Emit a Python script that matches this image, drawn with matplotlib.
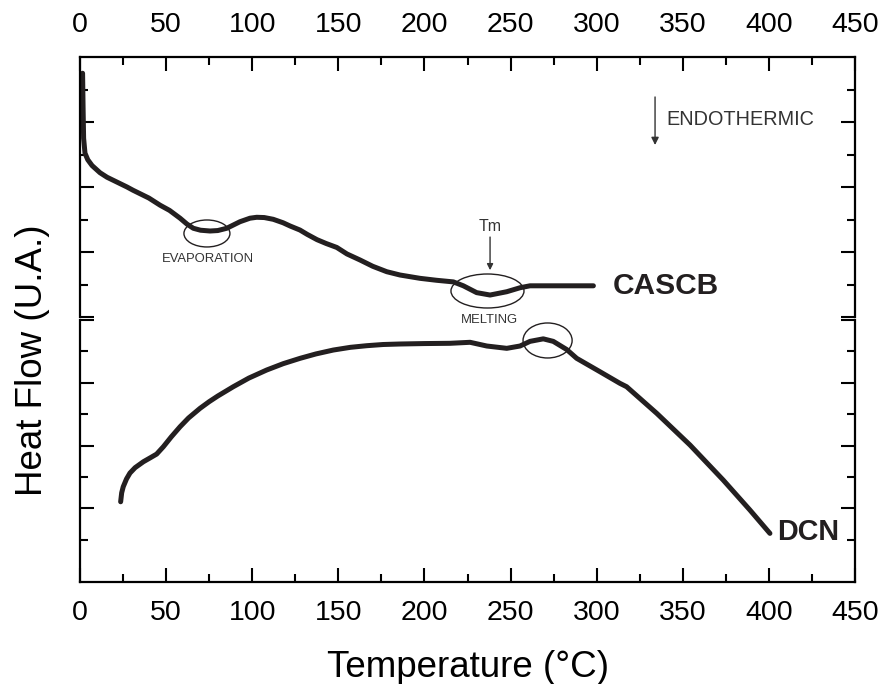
import matplotlib
matplotlib.use("Agg")
import matplotlib.pyplot as plt
from matplotlib.patches import Ellipse
from matplotlib.ticker import FixedLocator

plt.rcParams['font.family'] = ['Liberation Sans', 'DejaVu Sans']

# ---- data ----
cascb_x = [1.5, 1.8, 2.1, 2.9, 4.5, 7.0, 11.6, 15.7, 27.3, 30.8, 40, 46.5, 52, 58.1, 62.1,
           65.8, 70, 75.5, 80, 85.2, 92.9, 98.7, 102.6, 107, 112.2, 117.9, 122, 127.7, 132,
           137.6, 143, 149.1, 155, 162.6, 170, 178.1, 185.8, 197.4, 207, 216.8, 222.6, 230.3,
           238.1, 247.8, 255.5, 261.3, 298.1]
cascb_y = [3.75, 3.2, 2.75, 2.52, 2.42, 2.33, 2.22, 2.15, 2.0, 1.95, 1.83, 1.72, 1.64, 1.52, 1.43,
           1.365, 1.335, 1.323, 1.33, 1.365, 1.466, 1.52, 1.534, 1.53, 1.503, 1.45, 1.40, 1.338, 1.27,
           1.19, 1.13, 1.07, 0.97, 0.877, 0.78, 0.697, 0.646, 0.595, 0.565, 0.54, 0.48, 0.375,
           0.338, 0.389, 0.45, 0.48, 0.48]

dcn_x = [23.6, 24.2, 25.1, 27, 29.0, 32, 36.8, 41, 44.5, 48.4, 53, 58.1, 63, 69.7, 75, 80, 89.0,
         98, 108.4, 118, 127.8, 137, 147.1, 157, 166.5, 176, 185.8, 200, 214.8, 226.5, 236.2,
         247.8, 255.5, 261.3, 269, 274.8, 282.6, 288.4, 301.9, 313.5, 317.4, 334.9, 354.2,
         373.5, 389.0, 400.6]
dcn_y = [1.107, 1.25, 1.346, 1.47, 1.564, 1.65, 1.744, 1.81, 1.866, 1.983, 2.14, 2.301, 2.44,
         2.594, 2.70, 2.79, 2.938, 3.075, 3.204, 3.305, 3.39, 3.46, 3.522, 3.565, 3.591, 3.61,
         3.618, 3.625, 3.629, 3.645, 3.586, 3.549, 3.586, 3.66, 3.70, 3.66, 3.53, 3.39, 3.177,
         2.992, 2.938, 2.514, 2.01, 1.452, 0.975, 0.604]

x_ticks = [0, 50, 100, 150, 200, 250, 300, 350, 400, 450]
x_minor = [25, 75, 125, 175, 225, 275, 325, 375, 425]

# annotation ellipses: (center x, center y, width, height)
evap_ell = (73.7, 1.285, 26.7, 0.415)
melt_ell = (236.6, 0.40, 42.4, 0.523)
dcn_ell = (271.5, 3.674, 28.5, 0.557)

line_col = '#231f20'

fig = plt.figure(figsize=(8.86, 6.84), dpi=100)
W, H = 886, 684
def rect(l, t, r, b):
    return [l / W, (H - b) / H, (r - l) / W, (b - t) / H]

ax2 = fig.add_axes(rect(80, 320, 855, 582))
ax1 = fig.add_axes(rect(80, 57, 855, 317))

for ax in (ax1, ax2):
    ax.set_facecolor('none')
    ax.set_xlim(0, 450)
    for s in ax.spines.values():
        s.set_linewidth(1.6)
    ax.xaxis.set_major_locator(FixedLocator(x_ticks))
    ax.xaxis.set_minor_locator(FixedLocator(x_minor))
    ax.tick_params(which='both', direction='in', width=1.5, colors='black',
                   left=True, right=True, labelleft=False, labelright=False)
    ax.tick_params(which='major', length=10)
    ax.tick_params(which='minor', length=6)

# top panel
ax1.set_ylim(0, 4)
ax1.yaxis.set_major_locator(FixedLocator([0, 1, 2, 3]))
ax1.yaxis.set_minor_locator(FixedLocator([0.5, 1.5, 2.5, 3.5]))
ax1.spines['bottom'].set_visible(False)
ax1.tick_params(axis='x', which='both', top=True, bottom=False, labeltop=True,
                labelbottom=False, labelsize=20.5, pad=13.5)

# bottom panel
ax2.set_ylim(-0.17, 4)
ax2.yaxis.set_major_locator(FixedLocator([1, 2, 3, 4]))
ax2.yaxis.set_minor_locator(FixedLocator([0.5, 1.5, 2.5, 3.5]))
ax2.spines['top'].set_visible(False)
ax2.tick_params(axis='x', which='both', top=False, bottom=True, labeltop=False,
                labelbottom=True, labelsize=20.5, pad=13)

ax1.plot(cascb_x, cascb_y, color=line_col, lw=3.6, solid_capstyle='round',
         solid_joinstyle='round', clip_on=False)
ax2.plot(dcn_x, dcn_y, color=line_col, lw=3.6, solid_capstyle='round',
         solid_joinstyle='round', clip_on=False)

for ax, e in ((ax1, evap_ell), (ax1, melt_ell), (ax2, dcn_ell)):
    ax.add_patch(Ellipse((e[0], e[1]), e[2], e[3], fill=False, lw=1.0,
                         edgecolor=line_col, clip_on=False))

ax1.text(74.3, 0.892, 'EVAPORATION', fontsize=9.4, ha='center', va='center', color='#333333')
ax1.text(237.5, -0.046, 'MELTING', fontsize=9.4, ha='center', va='center', color='#333333',
         clip_on=False)
ax1.text(238.1, 1.385, 'Tm', fontsize=11.5, ha='center', va='center', color='#333333')
ax1.annotate('', xy=(238.1, 0.72), xytext=(238.1, 1.23),
             arrowprops=dict(arrowstyle='-|>', color='#333333', lw=1.0,
                             mutation_scale=9, shrinkA=0, shrinkB=0))
ax1.text(340.3, 3.046, 'ENDOTHERMIC', fontsize=14.3, ha='left', va='center', color='#333333')
ax1.annotate('', xy=(333.9, 2.646), xytext=(333.9, 3.385),
             arrowprops=dict(arrowstyle='-|>', color='#333333', lw=1.0,
                             mutation_scale=11, shrinkA=0, shrinkB=0))
ax1.text(309.5, 0.477, 'CASCB', fontsize=21.5, fontweight='bold', ha='left', va='center',
         color='#231f20')
ax2.text(404.7, 0.624, 'DCN', fontsize=20.7, fontweight='bold', ha='left', va='center',
         color='#231f20')

fig.text(468 / W, (H - 677) / H, 'Temperature (°C)', fontsize=26.5, ha='center',
         va='baseline')
fig.text(33 / W, (H - 360) / H, 'Heat Flow (U.A.)', fontsize=26.5, ha='center',
         va='center', rotation=90)

fig.savefig('out.png', dpi=100, facecolor='white')
